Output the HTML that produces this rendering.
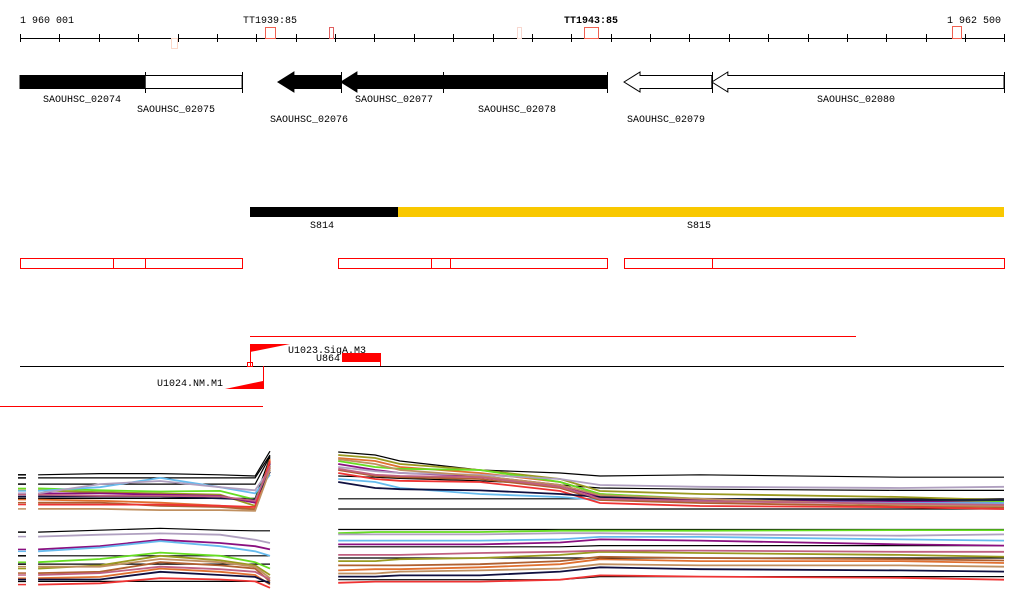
<!DOCTYPE html>
<html><head><meta charset="utf-8"><style>
html,body{margin:0;padding:0;background:#fff;}
svg{display:block;font-family:"Liberation Mono",monospace;font-size:10px;}
</style></head><body>
<svg id="c" width="1024" height="611" viewBox="0 0 1024 611">
<g id="axis">
<line x1="20" y1="38.5" x2="1004" y2="38.5" stroke="#000"/>
<text x="20" y="23">1 960 001</text>
<text x="947" y="23">1 962 500</text>
<text x="243" y="23">TT1939:85</text>
<text x="564" y="23" font-weight="bold">TT1943:85</text>
</g>
<g id="terms">
<rect x="171.5" y="38.5" width="6" height="10" fill="none" stroke="#fcd8c8"/>
<rect x="265.5" y="27.5" width="10" height="11" fill="none" stroke="#f06050"/>
<rect x="329.5" y="27.5" width="4" height="11" fill="none" stroke="#e06060"/>
<rect x="517.5" y="27.5" width="4" height="11" fill="none" stroke="#f8d8d0"/>
<rect x="584.5" y="27.5" width="14" height="11" fill="none" stroke="#f06050"/>
<rect x="952.5" y="26.5" width="9" height="12" fill="none" stroke="#f06050"/>
</g>
<g id="genes"></g>
<g>
<rect x="250" y="207" width="148" height="10" fill="#000"/>
<rect x="398" y="207" width="606" height="10" fill="#f9c800"/>
<text x="310" y="228">S814</text>
<text x="687" y="228">S815</text>
</g>
<g fill="none" stroke="#f00">
<rect x="20.5" y="258.5" width="222" height="10"/>
<line x1="113.5" y1="258" x2="113.5" y2="269"/><line x1="145.5" y1="258" x2="145.5" y2="269"/>
<rect x="338.5" y="258.5" width="269" height="10"/>
<line x1="431.5" y1="258" x2="431.5" y2="269"/><line x1="450.5" y1="258" x2="450.5" y2="269"/>
<rect x="624.5" y="258.5" width="380" height="10"/>
<line x1="712.5" y1="258" x2="712.5" y2="269"/>
</g>
<g>
<line x1="250" y1="336.5" x2="856" y2="336.5" stroke="#f00"/>
<line x1="20" y1="366.5" x2="1004" y2="366.5" stroke="#000"/>
<line x1="0" y1="406.5" x2="263" y2="406.5" stroke="#f00"/>
<line x1="250.5" y1="344" x2="250.5" y2="366" stroke="#f00"/>
<polygon points="250,344 290,344 250,352" fill="#f00"/>
<rect x="247.5" y="362.5" width="5" height="4" fill="none" stroke="#f00"/>
<text x="288" y="353">U1023.SigA.M3</text>
<rect x="342" y="353" width="38" height="9" fill="#f00"/>
<line x1="380.5" y1="353" x2="380.5" y2="366" stroke="#f00"/>
<text x="316" y="361">U864</text>
<line x1="263.5" y1="366" x2="263.5" y2="389" stroke="#f00"/>
<polygon points="225,389 263,381 263,389" fill="#f00"/>
<text x="157" y="386">U1024.NM.M1</text>
</g>
<g id="expr"></g>
</svg>
<script>
// gene data (genomic coordinates)
const geneNames=["SAOUHSC_02074","SAOUHSC_02075","SAOUHSC_02076","SAOUHSC_02077","SAOUHSC_02078","SAOUHSC_02079","SAOUHSC_02080"];
const geneStart=[1960001,1960319,1960656,1960816,1961060,1961535,1961758];
const geneEnd=[1960319,1960565,1960816,1961075,1961492,1961758,1962500];
const geneStrand=[0,0,-1,-1,0,-1,-1];
const geneFilled=[1,0,1,1,1,0,0];
const labelPos=[43,137,270,355,478,627,817];
const labelRow=[0,1,2,0,1,2,0];
// expression breakpoints
const leftPos=[1960047,1960204,1960357,1960509,1960598,1960636];
const rightPos=[1960809,1960903,1960966,1961169,1961373,1961474,1961728,1962236,1962500];
const palette=["#000","#000","#000","#000","#9a9a20","#e07030","#66dd22","#8a1080","#66bbee","#b0a0c0","#b06030","#ee3333","#101040","#c09060","#c06080"];
const ulSeries=[[60,62,62,60,58,98],[55,55,55,55,55,92],[45,45,45,45,45,90],[22,22,22,22,22,88],[35,32,30,28,10,80],[20,18,15,10,5,85],[38,35,33,34,20,75],[30,30,28,26,15,78],[34,40,55,40,30,60],[30,45,50,40,35,70],[15,15,10,8,4,72],[12,12,12,10,8,82],[25,25,25,22,20,65],[5,5,3,3,2,68],[28,26,26,25,18,74]];
const urSeries=[[100,95,85,70,65,60,62,58,58],[60,58,56,52,45,40,38,36,36],[22,22,22,22,22,22,22,22,22],[5,5,5,5,5,5,5,5,5],[95,90,80,70,55,35,30,25,20],[90,85,75,65,50,30,20,15,12],[85,75,72,70,50,30,22,20,18],[80,70,65,60,45,25,20,18,15],[55,50,40,30,25,20,18,15,15],[75,68,65,62,55,45,42,40,42],[70,60,58,55,40,20,15,10,8],[65,55,52,50,35,15,10,8,5],[50,40,38,36,30,25,22,20,20],[88,80,70,60,45,28,22,12,10],[72,62,60,58,42,22,18,14,12]];
const llSeries=[[92,95,98,95,94,94],[55,55,55,55,55,55],[42,42,42,42,42,42],[15,15,15,15,15,15],[35,40,55,48,40,25],[20,22,35,30,25,10],[45,50,60,55,45,35],[65,70,80,75,70,65],[62,68,78,70,62,55],[85,88,90,88,80,75],[28,30,45,40,35,15],[10,12,20,18,15,5],[18,18,30,25,22,12],[38,38,50,45,38,20],[25,28,38,34,30,18]];
const lrSeries=[[96,96,96,96,96,96,96,96,96],[68,68,68,68,68,70,70,70,70],[50,50,50,50,50,50,50,50,50],[15,15,15,15,15,20,20,20,20],[45,45,48,50,55,60,58,55,52],[30,32,32,35,40,48,45,45,42],[90,92,92,92,94,94,94,95,95],[72,72,72,72,75,80,78,72,70],[78,78,78,78,80,84,84,80,78],[88,88,88,88,90,90,88,86,88],[38,38,38,40,45,52,50,48,46],[10,12,12,12,15,22,20,18,15],[20,20,22,22,28,35,32,30,28],[25,25,28,30,33,40,38,38,36],[55,55,55,58,60,62,62,60,60]];

const NS="http://www.w3.org/2000/svg";
function X(p){return 20+(p-1960001)*984/2499;}
function mk(t,a,parent){const e=document.createElementNS(NS,t);for(const k in a)e.setAttribute(k,a[k]);parent.appendChild(e);return e;}
const axis=document.getElementById('axis');
for(let i=0;i<=25;i++){const x=Math.round(X(1960001+i*100))+0.5;
 const t=mk('line',{x1:x,y1:34,x2:x,y2:42,stroke:'#000'},axis);
 
 }
const genes=document.getElementById('genes');
geneNames.forEach((n,i)=>{
 const x0=X(geneStart[i]),x1=X(geneEnd[i]);const y0=75.5,y1=88.5,ym=82;
 let pts;
 if(geneStrand[i]===-1){const h=16;pts=[[x0,ym],[x0+h,ym-10],[x0+h,y0],[x1,y0],[x1,y1],[x0+h,y1],[x0+h,ym+10]];}
 else pts=[[x0,y0],[x1,y0],[x1,y1],[x0,y1]];
 const g=mk('polygon',{points:pts.map(p=>p.join(',')).join(' '),fill:geneFilled[i]?'#000':'#fff',stroke:'#000'},genes);
 
 
 mk('line',{x1:Math.round(x1)+0.5,y1:72,x2:Math.round(x1)+0.5,y2:93,stroke:'#000'},genes);
 const t=mk('text',{x:labelPos[i],y:102+labelRow[i]*10},genes);t.textContent=n;
 
 
});
const expr=document.getElementById('expr');
function panel(pos,series,top,h,name){
 const g=mk('g',{},expr);
 
 
 series.forEach((s,i)=>{
  const pts=s.map((v,j)=>X(pos[j]).toFixed(1)+','+(top+(100-v)*h/100).toFixed(1)).join(' ');
  const l=mk('polyline',{points:pts,fill:'none',stroke:palette[i%palette.length],'stroke-width':i<4?1.2:1.8},g);
  
  
 });
 return g;
}
panel(leftPos,ulSeries,450,62,'expression-panel-upper-left');
panel(rightPos,urSeries,452,60,'expression-panel-upper-right');
panel(leftPos,llSeries,527,64,'expression-panel-lower-left');
panel(rightPos,lrSeries,527,62,'expression-panel-lower-right');
// left stubs
[[ulSeries,450,62],[llSeries,527,64]].forEach(([ser,top,h])=>{
 ser.forEach((s,i)=>{const y=top+(100-s[0])*h/100;
  const l=mk('line',{x1:18,y1:y,x2:26,y2:y,stroke:palette[i],'stroke-width':1.5},expr);
  
  });
});
</script>
</body></html>
